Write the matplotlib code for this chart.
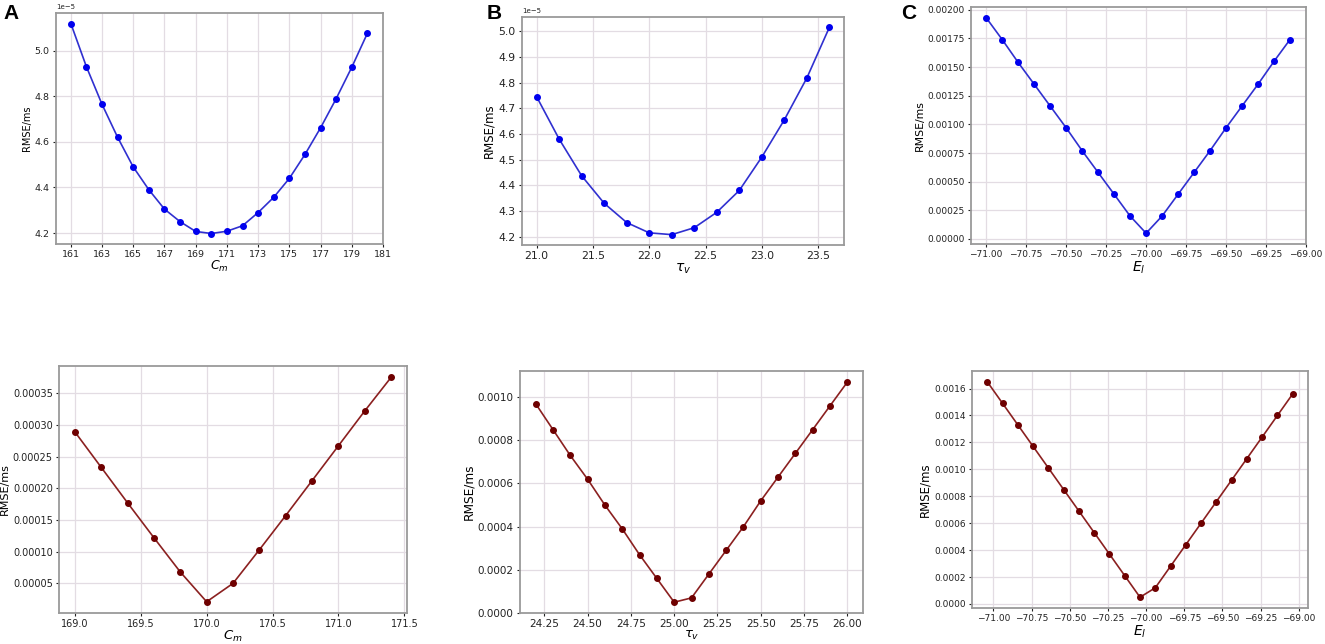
import matplotlib.pyplot as plt
import numpy as np

# top row (blue)
cm_top = [161, 162, 163, 164, 165, 166, 167, 168, 169, 170,
          171, 172, 173, 174, 175, 176, 177, 178, 179, 180]
rmse_cm_top = [5.12, 4.93, 4.765, 4.62, 4.49, 4.39, 4.305, 4.25, 4.207, 4.198,
               4.208, 4.232, 4.29, 4.357, 4.44, 4.545, 4.662, 4.79, 4.928, 5.077]  # x1e-5

tau_top = [21.0, 21.2, 21.4, 21.6, 21.8, 22.0, 22.2, 22.4, 22.6, 22.8, 23.0, 23.2, 23.4, 23.6]
rmse_tau_top = [4.745, 4.58, 4.437, 4.33, 4.255, 4.215, 4.208, 4.235, 4.295, 4.38,
                4.51, 4.655, 4.818, 5.015]  # x1e-5

el_top = [-71.0, -70.9, -70.8, -70.7, -70.6, -70.5, -70.4, -70.3, -70.2, -70.1,
          -70.0, -69.9, -69.8, -69.7, -69.6, -69.5, -69.4, -69.3, -69.2, -69.1]
rmse_el_top = [0.00193, 0.00174, 0.00154, 0.00135, 0.00116, 0.00097, 0.00077, 0.00058,
               0.00039, 0.00020, 0.00005, 0.00020, 0.00039, 0.00058, 0.00077, 0.00097,
               0.00116, 0.00135, 0.00155, 0.00174]

# bottom row (dark red)
cm_bot = [169.0, 169.2, 169.4, 169.6, 169.8, 170.0, 170.2, 170.4, 170.6, 170.8, 171.0, 171.2, 171.4]
rmse_cm_bot = [0.000289, 0.000233, 0.000177, 0.000122, 0.000068, 0.000021, 0.000050,
               0.000103, 0.000157, 0.000212, 0.000267, 0.000322, 0.000375]

tau_bot = [24.2, 24.3, 24.4, 24.5, 24.6, 24.7, 24.8, 24.9, 25.0, 25.1,
           25.2, 25.3, 25.4, 25.5, 25.6, 25.7, 25.8, 25.9, 26.0]
rmse_tau_bot = [0.00097, 0.00085, 0.00073, 0.00062, 0.00050, 0.00039, 0.00027, 0.00016,
                0.00005, 0.00007, 0.00018, 0.00029, 0.00040, 0.00052, 0.00063, 0.00074,
                0.00085, 0.00096, 0.00107]

el_bot = [-71.04, -70.94, -70.84, -70.74, -70.64, -70.54, -70.44, -70.34, -70.24, -70.14,
          -70.04, -69.94, -69.84, -69.74, -69.64, -69.54, -69.44, -69.34, -69.24, -69.14, -69.04]
rmse_el_bot = [0.00165, 0.00149, 0.00133, 0.00117, 0.00101, 0.00085, 0.00069, 0.00053,
               0.00037, 0.00021, 0.00005, 0.00012, 0.00028, 0.00044, 0.00060, 0.00076,
               0.00092, 0.00108, 0.00124, 0.00140, 0.00156]

fig = plt.figure(figsize=(13.25, 6.44), dpi=100)

def px_axes(x0, y0, x1, y1):
    W, H = 1325, 644
    return fig.add_axes([x0 / W, 1 - y1 / H, (x1 - x0) / W, (y1 - y0) / H])

def style(ax, xlabel, tick_fs, lab_fs, xlab_fs):
    ax.grid(True, color='#e3dce3', linewidth=0.9)
    ax.set_axisbelow(True)
    for s in ax.spines.values():
        s.set_color('#9a9a9a')
        s.set_linewidth(1.3)
    ax.tick_params(labelsize=tick_fs, colors='#222222', length=2.5, pad=2)
    ax.set_ylabel('RMSE/ms', fontsize=lab_fs, labelpad=2)
    ax.set_xlabel(xlabel, fontsize=xlab_fs, labelpad=0)

def minus_fmt(fmt):
    return plt.FuncFormatter(lambda v, p: (fmt % v).replace('-', '\u2212'))

blue_line = '#3030d0'
blue_mk = '#0000ee'
red_line = '#8b2020'
red_mk = '#6e0000'

# A top
ax = px_axes(56, 13, 383, 244)
ax.plot(cm_top, np.array(rmse_cm_top) * 1e-5, '-o', color=blue_line, mfc=blue_mk, mec=blue_mk,
        ms=4, lw=1.2)
ax.set_xticks(np.arange(161, 182, 2))
style(ax, '$C_m$', 6.8, 7, 9)
ax.yaxis.get_offset_text().set_fontsize(5)

# B top
ax = px_axes(522, 17, 844, 245)
ax.plot(tau_top, np.array(rmse_tau_top) * 1e-5, '-o', color=blue_line, mfc=blue_mk, mec=blue_mk,
        ms=4, lw=1.2)
style(ax, r'$\tau_v$', 7.8, 8.5, 10)
ax.yaxis.get_offset_text().set_fontsize(5)

# C top
ax = px_axes(971, 7, 1306, 244)
ax.plot(el_top, rmse_el_top, '-o', color=blue_line, mfc=blue_mk, mec=blue_mk, ms=4, lw=1.2)
ax.set_xticks(np.arange(-71.0, -68.99, 0.25))
style(ax, '$E_l$', 6.5, 7.8, 10)
ax.xaxis.set_major_formatter(minus_fmt('%.2f'))
ax.yaxis.set_major_formatter(plt.FormatStrFormatter('%.5f'))

# A bottom
ax = px_axes(59, 366, 407, 613)
ax.plot(cm_bot, rmse_cm_bot, '-o', color=red_line, mfc=red_mk, mec=red_mk, ms=4, lw=1.2)
style(ax, '$C_m$', 7.0, 8, 9.5)
ax.set_yticks(np.arange(0.00005, 0.00036, 0.00005))
ax.yaxis.set_major_formatter(plt.FormatStrFormatter('%.5f'))
ax.yaxis.set_label_coords(-0.142, 0.5)

# B bottom
ax = px_axes(520, 371, 863, 613)
ax.plot(tau_bot, rmse_tau_bot, '-o', color=red_line, mfc=red_mk, mec=red_mk, ms=4, lw=1.2)
ax.set_xticks(np.arange(24.25, 26.01, 0.25))
ax.set_ylim(0, None)
style(ax, r'$\tau_v$', 7.5, 8.7, 9.5)
ax.xaxis.set_major_formatter(plt.FormatStrFormatter('%.2f'))
ax.yaxis.set_major_formatter(plt.FormatStrFormatter('%.4f'))

# C bottom
ax = px_axes(972, 371, 1308, 608)
ax.plot(el_bot, rmse_el_bot, '-o', color=red_line, mfc=red_mk, mec=red_mk, ms=4, lw=1.2)
ax.set_xticks(np.arange(-71.0, -68.99, 0.25))
style(ax, '$E_l$', 6.5, 8.5, 10)
ax.xaxis.set_major_formatter(minus_fmt('%.2f'))
ax.yaxis.set_major_formatter(plt.FormatStrFormatter('%.4f'))

fig.text(3 / 1325, 1 - 19 / 644, 'A', fontsize=15, fontweight='bold', family='Liberation Sans')
fig.text(487 / 1325, 1 - 19 / 644, 'B', fontsize=15, fontweight='bold', family='Liberation Sans')
fig.text(901 / 1325, 1 - 19 / 644, 'C', fontsize=15, fontweight='bold', family='Liberation Sans')

fig.savefig('out.png', dpi=100)
